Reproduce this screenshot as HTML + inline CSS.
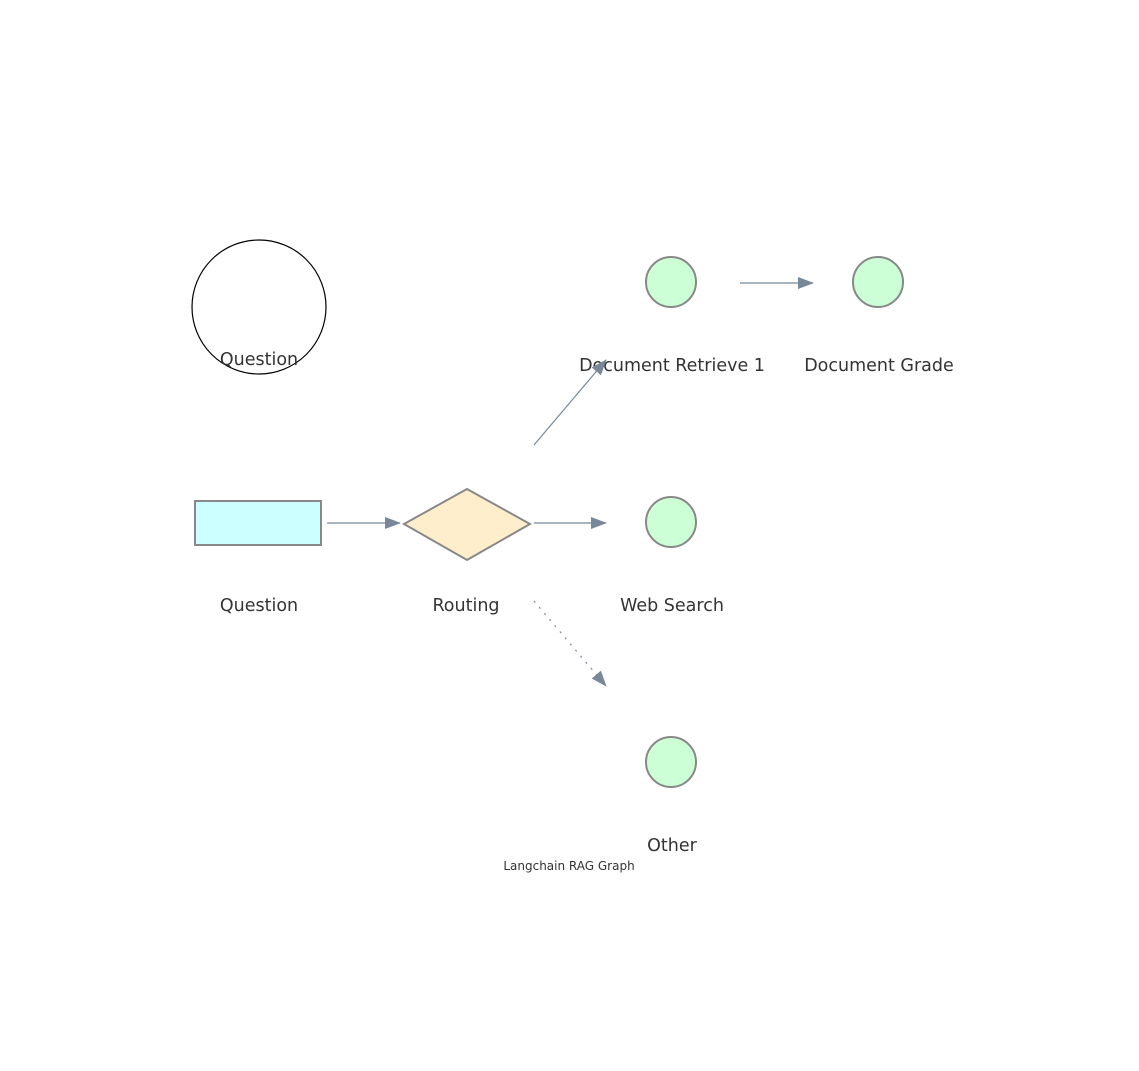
<!DOCTYPE html>
<html><head><meta charset="utf-8"><style>
html,body{margin:0;padding:0;background:#fff;}
svg{display:block;}
text{font-family:"DejaVu Sans","Liberation Sans",sans-serif;fill:#333;}
</style></head><body>
<svg width="1139" height="1071" viewBox="0 0 1139 1071" xmlns="http://www.w3.org/2000/svg">
<defs>
<marker id="a" markerWidth="16" markerHeight="12" refX="15" refY="6" orient="auto" markerUnits="userSpaceOnUse">
<path d="M0,0 L16,6 L0,12 z" fill="#778899"/></marker>
</defs>
<circle cx="259" cy="307" r="67" fill="none" stroke="#000" stroke-width="1.2"/>
<text x="259" y="365" font-size="17.5" text-anchor="middle">Question</text>

<rect x="195" y="501" width="126" height="44" fill="#ccffff" stroke="#888" stroke-width="2"/>
<text x="259" y="611" font-size="17.5" text-anchor="middle">Question</text>

<polygon points="467,489 530,524 467,560 404,524" fill="#ffeecc" stroke="#888" stroke-width="2"/>
<text x="466" y="611" font-size="17.5" text-anchor="middle">Routing</text>

<circle cx="671" cy="282" r="25" fill="#ccffd6" stroke="#888" stroke-width="2"/>
<text x="672" y="371" font-size="17.5" text-anchor="middle">Document Retrieve 1</text>
<circle cx="878" cy="282" r="25" fill="#ccffd6" stroke="#888" stroke-width="2"/>
<text x="879" y="371" font-size="17.5" text-anchor="middle">Document Grade</text>
<circle cx="671" cy="522" r="25" fill="#ccffd6" stroke="#888" stroke-width="2"/>
<text x="672" y="611" font-size="17.5" text-anchor="middle">Web Search</text>
<circle cx="671" cy="762" r="25" fill="#ccffd6" stroke="#888" stroke-width="2"/>
<text x="672" y="851" font-size="17.5" text-anchor="middle">Other</text>

<line x1="327" y1="523" x2="400" y2="523" stroke="#778899" stroke-width="1.2" marker-end="url(#a)"/>
<line x1="534" y1="523" x2="606" y2="523" stroke="#778899" stroke-width="1.2" marker-end="url(#a)"/>
<line x1="740" y1="283" x2="813" y2="283" stroke="#778899" stroke-width="1.2" marker-end="url(#a)"/>
<line x1="534" y1="445" x2="606" y2="360" stroke="#778899" stroke-width="1.2" marker-end="url(#a)"/>
<line x1="534" y1="601" x2="606" y2="686" stroke="#778899" stroke-width="1.2" stroke-dasharray="2,6" marker-end="url(#a)"/>

<text x="569" y="870" font-size="12" text-anchor="middle">Langchain RAG Graph</text>
</svg>
</body></html>
